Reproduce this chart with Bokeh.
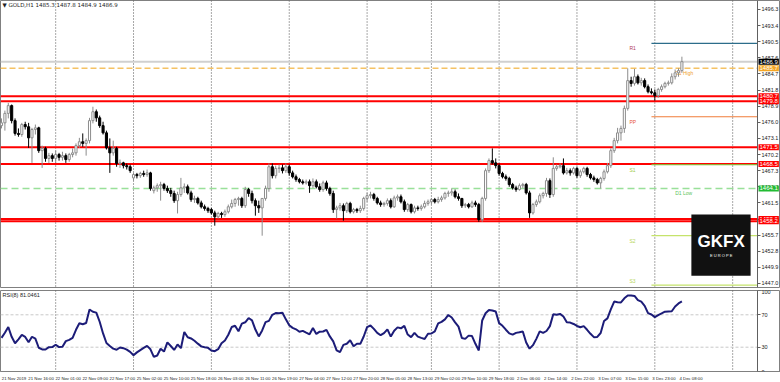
from bokeh.plotting import figure
from bokeh.models import (Range1d, Span, Label, FixedTicker, BoxAnnotation,
                          ColumnDataSource, PrintfTickFormatter)
from bokeh.layouts import column
from bokeh.embed import file_html
from bokeh.resources import INLINE
from bokeh.core.properties import value

# ---------------- data (GOLD, H1, 21 Nov 2019 08:00 .. 4 Dec 2019 09:00) ----------------
opens = [1475.4,1475.9,1477.6,1479.0,1476.3,1474.0,1473.8,1475.6,1475.2,1473.2,1474.7,1475.0,1470.9,1471.3,1469.5,1470.0,
         1469.5,1470.2,1469.7,1470.0,1469.3,1470.2,1470.5,1471.8,1472.5,1472.2,1472.7,1476.3,1477.9,1476.8,1475.4,1474.1,
         1471.4,1470.5,1471.3,1468.6,1468.7,1468.2,1468.0,1466.0,1466.6,1466.4,1466.8,1466.6,1466.9,1463.7,1464.2,1464.6,
         1464.8,1464.1,1463.7,1463.2,1461.9,1463.0,1464.2,1464.4,1463.3,1462.1,1462.3,1461.5,1460.8,1460.5,1460.3,1459.7,
         1459.0,1459.6,1459.4,1459.9,1460.8,1461.4,1462.1,1462.3,1461.0,1463.9,1463.2,1461.9,1461.0,1460.6,1462.3,1464.1,
         1468.0,1466.4,1467.7,1467.8,1467.3,1468.0,1466.9,1466.2,1465.7,1465.3,1465.1,1465.3,1464.6,1465.3,1464.4,1463.9,
         1465.1,1464.1,1463.2,1460.3,1460.6,1461.0,1460.1,1461.4,1459.9,1460.3,1460.1,1460.5,1462.3,1462.8,1463.0,1462.3,
         1461.5,1461.2,1461.4,1461.9,1460.8,1462.4,1462.6,1461.7,1460.3,1461.2,1459.9,1460.6,1460.5,1460.8,1461.4,1461.7,
         1462.1,1461.7,1462.1,1462.4,1463.2,1463.3,1463.5,1462.6,1462.3,1461.0,1461.2,1460.8,1461.5,1461.2,1458.5,1462.3,
         1467.3,1469.1,1468.7,1468.2,1466.8,1466.2,1465.9,1464.8,1464.2,1463.9,1464.6,1464.8,1463.3,1459.7,1461.2,1461.7,
         1462.8,1463.2,1465.5,1463.0,1467.7,1468.0,1468.2,1466.9,1467.3,1466.9,1467.7,1466.4,1467.1,1467.7,1466.6,1466.0,
         1465.7,1465.1,1465.9,1467.1,1468.2,1470.9,1472.7,1474.1,1474.9,1478.5,1483.5,1483.0,1484.2,1483.1,1483.5,1482.4,
         1481.5,1481.3,1480.8,1481.9,1482.4,1483.0,1483.1,1484.2,1484.9,1485.3]
highs = [1476.7,1478.1,1479.5,1479.2,1476.7,1474.9,1475.9,1476.1,1475.9,1475.0,1475.6,1475.2,1471.8,1471.6,1470.5,1470.4,
         1470.9,1470.5,1470.7,1470.4,1470.5,1471.3,1472.2,1473.2,1474.0,1473.1,1476.8,1478.8,1478.3,1477.2,1476.1,1474.5,
         1473.1,1472.7,1471.6,1469.3,1468.9,1468.6,1468.4,1466.9,1466.9,1467.1,1467.3,1467.5,1467.1,1464.6,1465.0,1465.3,
         1465.1,1464.6,1464.2,1463.7,1463.5,1466.0,1465.0,1464.8,1463.7,1462.8,1462.6,1461.9,1461.2,1460.8,1460.6,1460.1,
         1459.9,1459.9,1460.3,1461.2,1462.1,1462.4,1462.6,1462.6,1464.4,1464.2,1463.7,1462.3,1461.9,1462.3,1464.6,1468.6,
         1468.6,1468.2,1468.4,1468.4,1468.6,1468.4,1467.3,1466.6,1466.0,1465.7,1465.7,1465.7,1465.9,1465.7,1465.0,1465.5,
         1465.5,1464.4,1463.7,1461.0,1461.5,1461.4,1461.7,1461.7,1460.6,1460.6,1461.0,1462.6,1463.3,1463.5,1463.3,1462.6,
         1461.9,1461.7,1462.3,1462.3,1462.8,1463.0,1463.0,1462.1,1461.5,1461.4,1461.0,1461.0,1461.2,1461.9,1462.1,1462.4,
         1462.4,1462.6,1462.8,1463.5,1463.7,1464.1,1463.9,1463.2,1462.4,1461.5,1461.5,1461.9,1461.9,1461.5,1462.6,1467.7,
         1469.5,1471.3,1469.5,1468.6,1467.1,1466.6,1466.2,1465.1,1464.6,1465.0,1465.1,1465.1,1463.7,1461.5,1462.1,1463.2,
         1463.5,1466.0,1465.9,1469.7,1468.4,1468.6,1469.5,1467.8,1467.7,1468.0,1468.0,1467.5,1468.0,1468.0,1466.9,1466.4,
         1466.0,1466.2,1467.5,1468.7,1471.3,1473.2,1475.0,1475.4,1479.0,1485.7,1484.2,1485.6,1484.6,1484.0,1483.9,1482.8,
         1482.1,1481.9,1482.2,1482.8,1483.3,1483.5,1484.8,1485.5,1485.7,1487.8]
lows = [1474.9,1474.5,1476.7,1475.8,1473.6,1473.4,1473.4,1474.7,1471.4,1468.7,1473.8,1470.5,1467.8,1468.9,1468.7,1468.9,
        1468.7,1469.1,1469.1,1468.7,1468.9,1469.7,1470.0,1471.4,1471.6,1470.0,1472.2,1475.8,1476.1,1475.0,1473.8,1471.1,
        1466.9,1470.0,1468.0,1467.8,1467.7,1467.5,1466.9,1465.5,1465.9,1466.0,1466.2,1466.2,1463.7,1463.2,1463.5,1461.9,
        1463.7,1463.3,1462.6,1461.5,1459.6,1462.6,1463.3,1463.0,1461.7,1461.5,1461.2,1460.5,1460.1,1459.7,1459.4,1457.4,
        1458.7,1458.8,1459.0,1459.6,1460.5,1460.8,1461.0,1460.6,1460.6,1462.6,1461.4,1459.2,1459.7,1455.6,1461.9,1463.5,
        1465.9,1465.9,1466.9,1466.8,1466.9,1466.4,1465.9,1465.3,1465.0,1464.8,1464.8,1463.3,1464.2,1464.1,1463.5,1463.5,
        1463.7,1462.8,1459.7,1458.7,1460.1,1458.3,1459.7,1459.6,1459.6,1459.7,1459.7,1460.1,1461.7,1462.3,1461.9,1461.2,
        1460.8,1460.8,1461.0,1460.5,1460.6,1461.9,1461.4,1459.9,1459.9,1459.6,1459.6,1460.1,1460.1,1460.5,1461.0,1461.2,
        1461.4,1461.4,1461.7,1462.1,1462.6,1462.8,1462.3,1461.9,1460.6,1460.6,1460.5,1460.6,1460.8,1458.1,1458.1,1461.9,
        1466.9,1468.4,1467.7,1466.4,1465.9,1465.5,1464.4,1463.9,1463.5,1463.7,1464.2,1463.0,1458.8,1459.4,1460.8,1461.4,
        1462.3,1462.6,1462.4,1462.6,1467.3,1467.7,1466.6,1466.6,1466.4,1466.6,1466.0,1466.0,1466.8,1466.2,1465.7,1465.3,
        1464.8,1464.1,1465.5,1466.8,1467.8,1470.5,1472.2,1472.7,1474.1,1478.1,1482.4,1482.6,1482.8,1482.6,1482.1,1481.2,
        1481.0,1479.9,1480.4,1481.5,1482.1,1482.6,1482.8,1483.7,1484.2,1484.9]
closes = [1475.9,1477.6,1479.0,1476.3,1474.0,1473.8,1475.6,1475.2,1473.2,1474.7,1475.0,1470.9,1471.3,1469.5,1470.0,1469.5,
          1470.2,1469.7,1470.0,1469.3,1470.2,1470.5,1471.8,1472.5,1472.2,1472.7,1476.3,1477.9,1476.8,1475.4,1474.1,1471.4,
          1470.5,1471.3,1468.6,1468.7,1468.2,1468.0,1467.3,1466.6,1466.4,1466.8,1466.6,1466.9,1464.1,1464.2,1464.6,1464.8,
          1464.1,1463.7,1463.2,1461.9,1463.0,1464.2,1464.4,1463.3,1462.1,1462.3,1461.5,1460.8,1460.5,1460.1,1459.7,1459.0,
          1459.6,1459.4,1459.9,1460.8,1461.4,1462.1,1462.3,1461.0,1463.9,1463.2,1461.9,1461.0,1460.6,1462.3,1464.1,1468.0,
          1466.4,1467.7,1467.8,1467.3,1468.0,1466.9,1466.2,1465.7,1465.3,1465.1,1465.3,1464.6,1465.3,1464.4,1463.9,1465.1,
          1464.1,1463.2,1460.3,1460.6,1461.0,1460.1,1461.4,1459.9,1460.3,1460.1,1460.5,1462.3,1462.8,1463.0,1462.3,1461.5,
          1461.2,1461.4,1461.9,1460.8,1462.4,1462.6,1461.7,1460.3,1461.2,1459.9,1460.6,1460.5,1460.8,1461.4,1461.7,1462.1,
          1461.7,1462.1,1462.4,1463.2,1463.3,1463.5,1462.6,1462.3,1461.0,1461.2,1460.8,1461.5,1461.2,1458.5,1462.3,1467.3,
          1469.1,1468.7,1468.2,1466.8,1466.2,1465.9,1464.8,1464.2,1463.9,1464.6,1464.8,1463.3,1459.7,1461.2,1461.7,1462.8,
          1463.2,1465.5,1463.0,1467.7,1468.0,1468.2,1466.9,1467.3,1466.9,1467.7,1466.4,1467.1,1467.7,1466.6,1466.0,1465.7,
          1465.1,1465.9,1467.1,1468.2,1470.9,1472.7,1474.1,1474.9,1478.5,1483.5,1483.0,1484.2,1483.1,1483.5,1482.4,1481.5,
          1481.3,1480.8,1481.9,1482.4,1483.0,1483.1,1484.2,1484.9,1485.3,1486.9]
rsi = [41.5,47.8,54.9,42.8,34.9,39.7,45.1,42.7,36.1,42.9,40.5,29.3,27.2,27.2,30.0,30.1,33.1,30.1,30.6,37.5,
       39.0,41.5,51.5,59.5,58.4,59.9,76.6,73.7,72.7,61.4,47.0,35.2,31.6,28.2,26.8,29.6,28.8,27.0,24.2,20.1,
       23.6,26.4,29.1,31.6,27.4,18.0,19.8,28.0,24.6,35.9,31.5,26.6,33.4,28.8,48.7,42.2,40.8,38.0,34.4,31.0,
       30.0,29.2,25.9,25.1,27.6,34.8,38.2,45.4,54.9,56.5,49.7,59.1,60.8,66.0,63.2,51.8,43.3,50.7,60.9,62.5,
       70.0,72.1,72.0,72.6,64.4,57.1,53.9,52.1,49.0,50.2,48.0,45.9,53.7,46.4,49.2,49.4,51.4,43.3,37.2,26.1,
       23.9,32.9,34.2,38.5,31.2,34.2,34.2,43.2,54.8,56.8,52.6,47.7,44.8,47.4,52.0,43.1,50.4,54.5,53.3,56.3,
       45.6,42.4,47.7,43.0,41.5,40.2,46.7,46.9,49.6,59.4,61.3,64.4,69.8,66.7,60.7,55.4,41.4,40.3,44.3,43.7,
       34.2,26.0,63.0,71.9,75.8,75.3,74.0,59.7,56.4,51.6,47.0,45.5,47.7,48.4,49.4,35.9,28.2,32.5,40.3,49.5,
       47.6,50.0,56.0,70.8,70.1,71.1,67.9,60.9,60.4,58.7,56.2,54.6,56.0,51.5,46.5,42.4,42.7,47.5,62.3,65.6,
       76.7,86.3,85.5,85.2,90.3,93.8,93.9,93.3,88.1,86.2,81.1,72.0,70.4,67.1,69.7,71.7,73.8,74.1,74.4,80.2,
       84.0,86.5]

time_tick_bars = [0, 8, 16, 24, 32, 40, 48, 56, 64, 72, 80, 88, 96, 104, 112, 120, 128,
                  136, 144, 152, 160, 168, 176, 184, 192, 200]
time_labels = ["21 Nov 2019", "21 Nov 16:00", "22 Nov 01:00", "22 Nov 09:00", "22 Nov 17:00",
               "25 Nov 02:00", "25 Nov 10:00", "25 Nov 18:00", "26 Nov 03:00", "26 Nov 11:00",
               "26 Nov 19:00", "27 Nov 04:00", "27 Nov 12:00", "27 Nov 20:00", "28 Nov 05:00",
               "28 Nov 13:00", "29 Nov 02:00", "29 Nov 10:00", "29 Nov 18:00", "2 Dec 06:00",
               "2 Dec 14:00", "2 Dec 22:00", "3 Dec 07:00", "3 Dec 15:00", "3 Dec 23:00", "4 Dec 08:00"]
day_start_bars = [16, 39, 62, 85, 108, 127, 147, 170, 193, 216]
price_ticks = [1447.0, 1449.9, 1452.8, 1455.7, 1458.6, 1461.5, 1464.4, 1467.3, 1470.2, 1473.1,
               1476.0, 1478.9, 1481.8, 1484.7, 1487.6, 1490.5, 1493.4, 1496.3]
rsi_ticks = [0, 30, 70, 100]
rsi_levels = [30, 70]

bid_price = 1486.9
d1_high = 1485.7
d1_low = 1464.1
red_levels = [1480.7, 1479.8, 1471.5, 1468.5, 1458.6, 1458.2]
pivot_names = ["R1", "PP", "S1", "S2", "S3"]
pivot_values = [1490.2, 1477.0, 1468.4, 1455.6, 1446.7]
pivot_start_bar = 192
pivot_label_bar = 185.5
d1_label_bar = 199

title_text = "\u25bc GOLD,H1  1485.3 1487.8 1484.9 1486.9"
rsi_title = "RSI(8) 81.0461"

# ---------------- layout / styling ----------------
FONT = "Liberation Sans"
AX = "#808080"
pivot_colors = ["#2c6d8a", "#f07d3a", "#8db33a", "#c5e36b", "#c5e36b"]
pivot_text_colors = ["#b03a5a", "#e8553a", "#a2cc4a", "#b8d65a", "#b8d65a"]

BAR_PX = 3.385              # horizontal pixels per hourly bar
X0 = -0.3                   # left edge of the chart in bar units
AXIS_X = X0 + 757 / BAR_PX  # price-scale position (bar units)
X1 = X0 + 780 / BAR_PX
LABEL_SHIFT = 3.7           # time labels start at their bar (half label width, in bars)

xr = Range1d(X0, X1)
n = len(closes)
xs = list(range(n))
bull = [c >= o for o, c in zip(opens, closes)]
src = ColumnDataSource(dict(
    x=xs, o=opens, h=highs, l=lows, c=closes,
    top=[max(o, c) for o, c in zip(opens, closes)],
    bot=[min(o, c) for o, c in zip(opens, closes)],
    fill=["#ffffff" if b else "#000000" for b in bull],
    line=["#8c8c8c" if b else "#000000" for b in bull],
))


def style_yaxis(ax, ticks, fmt=None):
    ax.ticker = FixedTicker(ticks=ticks)
    if fmt:
        ax.formatter = PrintfTickFormatter(format=fmt)
    ax.fixed_location = AXIS_X
    ax.major_label_text_font_size = "5.5px"
    ax.major_label_text_font = FONT
    ax.major_label_text_color = "#222222"
    ax.major_tick_out = 3
    ax.major_tick_in = 0
    ax.minor_tick_out = 0
    ax.minor_tick_in = 0
    ax.major_label_standoff = 1
    ax.axis_line_color = "#606060"
    ax.major_tick_line_color = "#606060"


p1 = figure(frame_width=780, frame_height=287, x_range=xr, y_range=Range1d(1446.28, 1497.91),
            output_backend="svg", toolbar_location=None, x_axis_location=None,
            y_axis_location="right", min_border_left=0, min_border_right=0,
            min_border_top=0, min_border_bottom=2)
p1.grid.grid_line_color = None
p1.outline_line_color = AX
style_yaxis(p1.yaxis[0], price_ticks, "%.1f")

for d in day_start_bars:
    p1.add_layout(Span(location=d, dimension="height", line_color="#505050",
                       line_dash="1 2", line_width=1, level="underlay"))

# horizontal objects (stop at the price scale)
p1.segment(x0=X0, y0=bid_price, x1=AXIS_X, y1=bid_price, line_color="#d0d0d0", line_width=2)
p1.segment(x0=X0, y0=d1_high, x1=AXIS_X, y1=d1_high, line_color="#f5c264",
           line_dash="6 3", line_width=1.5)
p1.segment(x0=X0, y0=d1_low, x1=AXIS_X, y1=d1_low, line_color="#99e099",
           line_dash="7 4", line_width=1.5)
p1.segment(x0=[X0] * len(red_levels), y0=red_levels, x1=[AXIS_X] * len(red_levels),
           y1=red_levels, line_color="#ff0000", line_width=2)
p1.segment(x0=[pivot_start_bar] * len(pivot_values), y0=pivot_values,
           x1=[AXIS_X] * len(pivot_values), y1=pivot_values,
           line_color=pivot_colors, line_width=1.2)
p1.text(x=[pivot_label_bar] * 4, y=pivot_values[:4], text=pivot_names[:4],
        text_color=pivot_text_colors[:4], text_font_size="5px", text_font=value(FONT),
        text_baseline="top", text_align="left", y_offset=2)
p1.text(x=[pivot_label_bar], y=pivot_values[4:], text=pivot_names[4:],
        text_color=pivot_text_colors[4:], text_font_size="5px", text_font=value(FONT),
        text_baseline="bottom", text_align="left", y_offset=-1)
p1.text(x=[d1_label_bar, d1_label_bar], y=[d1_high, d1_low], text=["D1 High", "D1 Low"],
        text_color=["#f0a030", "#5cc45c"], text_font_size="5px", text_font=value(FONT),
        text_baseline="top", text_align="left", y_offset=2)

# candles
p1.segment(x0="x", y0="h", x1="x", y1="l", source=src, line_color="line", line_width=1)
p1.vbar(x="x", width=0.62, top="top", bottom="bot", source=src,
        fill_color="fill", line_color="line", line_width=1)

# GKFX logo
p1.add_layout(BoxAnnotation(left=203.8, right=221.3, top=1459.4, bottom=1448.4,
                            fill_color="#111111", fill_alpha=1, line_color=None))
p1.add_layout(Label(x=212.6, y=1454.6, text="GKFX", text_color="white", text_font=FONT,
                    text_font_size="17px", text_font_style="bold", text_align="center",
                    text_baseline="middle"))
p1.add_layout(Label(x=212.6, y=1452.0, text="E U R O P E", text_color="white", text_font=FONT,
                    text_font_size="4px", text_align="center", text_baseline="middle"))

# price boxes on the scale
boxes = ([(bid_price, "#000000"), (d1_high, "#f5a623")] +
         [(lv, "#ff0000") for lv in red_levels] + [(d1_low, "#22bb33")])
for lv, col in boxes:
    p1.add_layout(Label(x=AXIS_X, y=lv, text="%.1f" % lv, x_offset=1, text_align="left",
                        text_baseline="middle", text_color="white", text_font=FONT,
                        text_font_size="6px", background_fill_color=col,
                        background_fill_alpha=1.0, padding=1))

p1.add_layout(Label(x=X0, y=1497.91, text=title_text, x_offset=2, y_offset=-1,
                    text_baseline="top", text_align="left", text_font="DejaVu Sans",
                    text_font_size="5.5px", text_color="#222222"))

# ---------------- RSI pane ----------------
p2 = figure(frame_width=780, frame_height=81, x_range=xr, y_range=Range1d(0, 100),
            output_backend="svg", toolbar_location=None, y_axis_location="right",
            min_border_left=0, min_border_right=0, min_border_top=1, min_border_bottom=11)
p2.grid.grid_line_color = None
p2.outline_line_color = AX
for d in day_start_bars:
    p2.add_layout(Span(location=d, dimension="height", line_color="#505050",
                       line_dash="1 2", line_width=1, level="underlay"))
p2.segment(x0=[X0] * len(rsi_levels), y0=rsi_levels, x1=[AXIS_X] * len(rsi_levels),
           y1=rsi_levels, line_color="#c8c8c8", line_dash="3 2", line_width=1)
p2.line(xs, rsi, line_color="#1c1c78", line_width=2)
style_yaxis(p2.yaxis[0], rsi_ticks)

label_pos = [round(b + LABEL_SHIFT, 2) for b in time_tick_bars]
rx = p2.xaxis[0]
rx.ticker = FixedTicker(ticks=label_pos)
rx.major_label_overrides = {p: t for p, t in zip(label_pos, time_labels)}
rx.major_label_text_font_size = "4.3px"
rx.major_label_text_font = FONT
rx.major_label_text_color = "#222222"
rx.major_tick_line_color = None
rx.major_tick_out = 2
rx.major_tick_in = 0
rx.minor_tick_out = 0
rx.minor_tick_in = 0
rx.major_label_standoff = 2
rx.axis_line_color = AX

p2.add_layout(Label(x=X0, y=100, text=rsi_title, x_offset=2, y_offset=-1,
                    text_baseline="top", text_align="left", text_font=FONT,
                    text_font_size="5.5px", text_color="#222222"))

layout = column(p1, p2, spacing=0)
open("out.html", "w").write(file_html(layout, INLINE))
